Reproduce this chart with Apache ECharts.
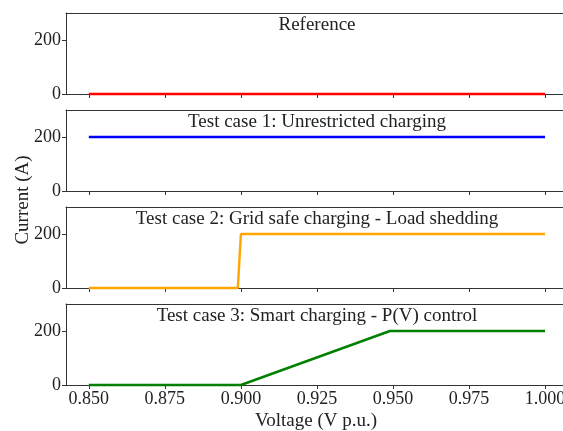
<!DOCTYPE html>
<html><head><meta charset="utf-8">
<script src="https://cdn.jsdelivr.net/npm/echarts@6/dist/echarts.min.js"></script>
<style>html,body{margin:0;padding:0;background:#fff}#c{width:563px;height:431px}</style>
</head><body><div id="c"></div>
<script>
const titles = ["Reference", "Test case 1: Unrestricted charging", "Test case 2: Grid safe charging - Load shedding", "Test case 3: Smart charging - P(V) control"];
const colors = ["#ff0000", "#0000ff", "#ffa500", "#008000"];
const refVoltage = [0.85, 1.0];
const refCurrent = [0, 0];
const tc1Voltage = [0.85, 1.0];
const tc1Current = [200, 200];
const tc2Voltage = [0.85, 0.899, 0.9, 1.0];
const tc2Current = [0, 0, 200, 200];
const tc3Voltage = [0.85, 0.9, 0.949, 1.0];
const tc3Current = [0, 0, 200, 200];
const xTicks = [0.85, 0.875, 0.9, 0.925, 0.95, 0.975, 1.0];
const yTicks = [0, 200];
const xLabel = "Voltage (V p.u.)";
const yLabel = "Current (A)";

const seriesX = [refVoltage, tc1Voltage, tc2Voltage, tc3Voltage];
const seriesY = [refCurrent, tc1Current, tc2Current, tc3Current];
const FONT = "Liberation Serif";
const tops = [13, 110, 207, 304];
const H = 81;
const grids = [], xAxes = [], yAxes = [], series = [], titleArr = [];
const axisCol = "#333";
const txtCol = "#222";
tops.forEach((t, i) => {
  grids.push({left: 66, top: t, right: 0, height: H, show: false, containLabel: false, outerBoundsMode: 'none'});
  xAxes.push({type: 'value', gridIndex: i, min: 0.8425, max: 1.0059,
    axisLine: {show: true, onZero: false, lineStyle: {color: axisCol, width: 1}},
    axisTick: {show: true, customValues: xTicks, length: 4, lineStyle: {color: axisCol}},
    axisLabel: {show: i === 3, customValues: xTicks, margin: 5, color: txtCol, fontFamily: FONT, fontSize: 18,
      formatter: v => Number(v).toFixed(3)},
    splitLine: {show: false}});
  yAxes.push({type: 'value', gridIndex: i, min: 0, max: 300,
    axisLine: {show: true, lineStyle: {color: axisCol, width: 1}},
    axisTick: {show: true, customValues: yTicks, length: 4, lineStyle: {color: axisCol}},
    axisLabel: {customValues: yTicks, margin: 5, color: txtCol, fontFamily: FONT, fontSize: 18},
    splitLine: {show: false}});
  titleArr.push({text: titles[i], left: 317, top: t + 2, textAlign: 'center', padding: 0,
    textStyle: {fontFamily: FONT, fontSize: 19, fontWeight: 'normal', color: txtCol, lineHeight: 21}});
});
// top spines
tops.forEach((t, i) => {
  xAxes.push({type: 'value', gridIndex: i, position: 'top', min: 0.8425, max: 1.0059,
    axisLine: {show: true, onZero: false, lineStyle: {color: axisCol, width: 1}},
    axisTick: {show: false}, axisLabel: {show: false}, splitLine: {show: false}});
});
tops.forEach((t, i) => {
  series.push({type: 'line', xAxisIndex: i, yAxisIndex: i, showSymbol: false, symbol: 'none',
    data: seriesX[i].map((x, k) => [x, seriesY[i][k]]),
    lineStyle: {color: colors[i], width: 2.4}, z: 5, clip: false, animation: false});
});
const chart = echarts.init(document.getElementById('c'), null, {renderer: 'canvas'});
chart.setOption({
  animation: false,
  backgroundColor: '#fff',
  title: titleArr,
  grid: grids, xAxis: xAxes, yAxis: yAxes, series: series,
  graphic: [
    {type: 'text', x: 23, y: 200, rotation: Math.PI / 2, style: {text: yLabel, fontFamily: FONT, fontSize: 19, fill: txtCol, align: 'center', verticalAlign: 'middle'}},
    {type: 'text', x: 316, y: 421, style: {text: xLabel, fontFamily: FONT, fontSize: 19, fill: txtCol, align: 'center', verticalAlign: 'middle'}}
  ]
});
</script></body></html>
